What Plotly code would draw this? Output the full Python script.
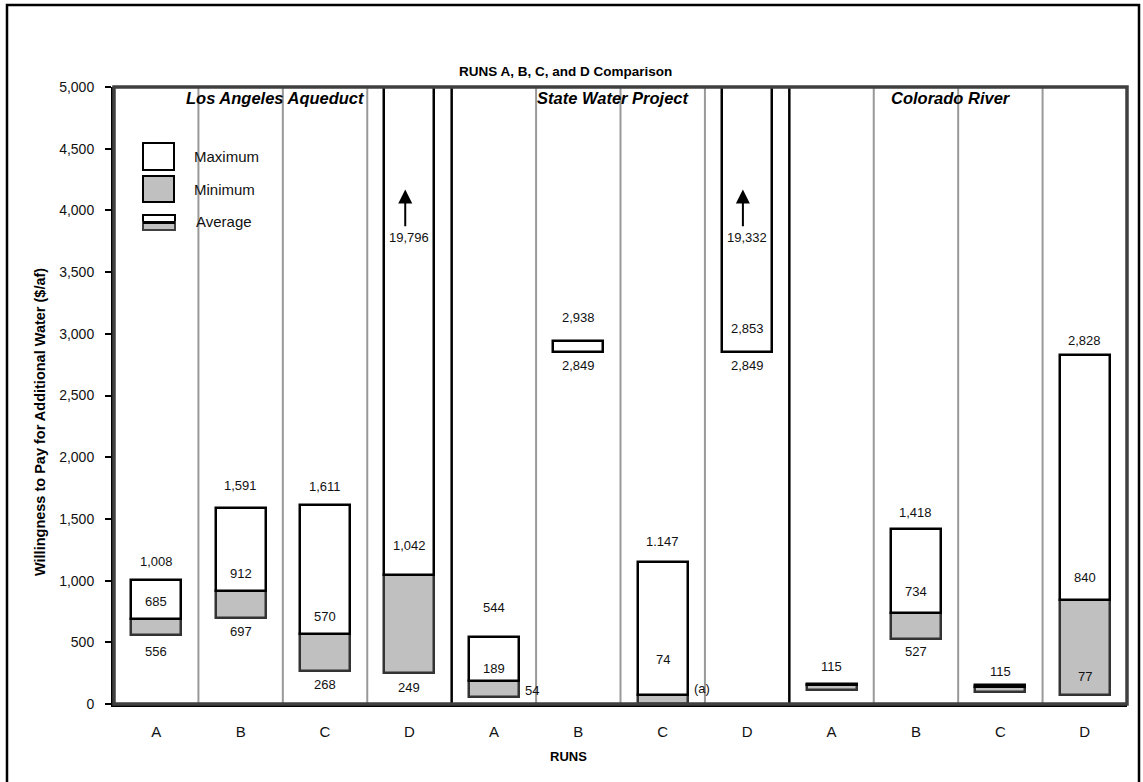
import plotly.graph_objects as go

# ---- data -------------------------------------------------------------
runs = ["A", "B", "C", "D"]
sources = ["Los Angeles Aqueduct", "State Water Project", "Colorado River"]

# willingness to pay ($/af) per source x run, in order LA A..D, SWP A..D, CR A..D
max_vals = [1008, 1591, 1611, 19796, 544, 2938, 1147, 19332, 165, 1418, 150, 2828]
avg_vals = [685, 912, 570, 1042, 189, 2849, 74, 2853, 150, 734, 135, 840]
min_vals = [556, 697, 268, 249, 54, 2849, 0, 2849, 115, 527, 95, 77]

max_text = ["1,008", "1,591", "1,611", "19,796", "544", "2,938", "1.147", "19,332",
            "115", "1,418", "115", "2,828"]
avg_text = ["685", "912", "570", "1,042", "189", "", "74", "2,853", "", "734", "", "840"]
min_text = ["556", "697", "268", "249", "54", "2,849", "(a)", "2,849", "", "527", "", "77"]

# ---- label placement (pixel offsets from the value they describe) -----
max_dy = [18, 22, 19, 0, 29, 24, 21, 0, 17, 17, 14, 15]
avg_dy = [18, 18, 17, 30, 12, 0, 35, 23, 0, 22, 0, 23]
min_dy = [-16, -14, -14, -14, 7, -13, 16, -13, 0, -13, 0, 18]
min_dx = [0, 0, 0, 0, 38, 0, 39, 0, 0, 0, 0, 0]

Y_MAX = 5000
ARROW_HEAD, ARROW_TAIL, OFFSCALE_LABEL = 4170, 3860, 3780

# ---- geometry / style -------------------------------------------------
W, H = 1143, 782
ML, MR, MT, MB = 114, 16, 87, 78
PW, PH = W - ML - MR, H - MT - MB
FONT = "Arial, Liberation Sans, sans-serif"
GRAY = "#c0c0c0"
BAR_W = 0.592

def px(x):  # pixel column -> paper x
    return (x - ML) / PW

def py(y):  # pixel row -> paper y
    return (MT + PH - y) / PH

n = len(max_vals)
xpos = [i + 0.5 for i in range(n)]
ticktext = runs * len(sources)

fig = go.Figure()

# minimum part: from minimum up to the average
fig.add_trace(go.Bar(
    x=xpos, base=min_vals, y=[a - m for a, m in zip(avg_vals, min_vals)],
    width=BAR_W, marker=dict(color=GRAY, line=dict(color="#333333", width=2.5)),
    hoverinfo="skip", showlegend=False))
# maximum part: from the average up to the maximum
fig.add_trace(go.Bar(
    x=xpos, base=avg_vals, y=[mx - a for mx, a in zip(max_vals, avg_vals)],
    width=BAR_W, marker=dict(color="white", line=dict(color="black", width=2.5)),
    hoverinfo="skip", showlegend=False))

shapes = []
# run separators; source boundaries in black
for k in range(1, n):
    boundary = k % len(runs) == 0
    shapes.append(dict(type="line", xref="x", yref="paper", x0=k, x1=k, y0=0, y1=1,
                       line=dict(color="black" if boundary else "#999999",
                                 width=2.5 if boundary else 2), layer="below"))
# plot-area frame (top/right)
shapes.append(dict(type="rect", xref="paper", yref="paper", x0=0, x1=1, y0=0, y1=1,
                   line=dict(color="#404040", width=3.5)))
# outer frame of the chart
shapes.append(dict(type="rect", xref="paper", yref="paper",
                   x0=px(7), x1=px(1139), y0=py(793), y1=py(5),
                   line=dict(color="black", width=2.5)))
# legend swatches
shapes.append(dict(type="rect", xref="paper", yref="paper", x0=px(143), x1=px(174),
                   y0=py(170), y1=py(143), fillcolor="white", line=dict(color="black", width=2)))
shapes.append(dict(type="rect", xref="paper", yref="paper", x0=px(143), x1=px(174),
                   y0=py(202), y1=py(176), fillcolor=GRAY, line=dict(color="black", width=2)))
shapes.append(dict(type="rect", xref="paper", yref="paper", x0=px(143), x1=px(175),
                   y0=py(222), y1=py(215), fillcolor="white", line=dict(color="black", width=2)))
shapes.append(dict(type="rect", xref="paper", yref="paper", x0=px(143), x1=px(175),
                   y0=py(230), y1=py(222), fillcolor=GRAY, line=dict(color="#404040", width=2)))
shapes.append(dict(type="line", xref="paper", yref="paper", x0=px(143), x1=px(175),
                   y0=py(222.5), y1=py(222.5), line=dict(color="black", width=3)))

ann = []
lab = dict(size=13, color="#111111", family=FONT)
for i in range(n):
    x = xpos[i]
    if max_vals[i] > Y_MAX:
        # off-scale maximum: upward arrow with the value below it
        ann.append(dict(x=x - 0.05, y=ARROW_HEAD, ax=x - 0.05, ay=ARROW_TAIL,
                        xref="x", yref="y", axref="x", ayref="y", text="",
                        showarrow=True, arrowhead=2, arrowsize=1.4, arrowwidth=2,
                        arrowcolor="black"))
        ann.append(dict(x=x, y=OFFSCALE_LABEL, xref="x", yref="y", text=max_text[i],
                        showarrow=False, font=lab))
    elif max_text[i]:
        ann.append(dict(x=x, y=max_vals[i], xref="x", yref="y", text=max_text[i],
                        showarrow=False, yshift=max_dy[i], font=lab))
    if avg_text[i]:
        ann.append(dict(x=x, y=avg_vals[i], xref="x", yref="y", text=avg_text[i],
                        showarrow=False, yshift=avg_dy[i], font=lab))
    if min_text[i]:
        ann.append(dict(x=x, y=min_vals[i], xref="x", yref="y", text=min_text[i],
                        showarrow=False, yshift=min_dy[i], xshift=min_dx[i], font=lab))

# source names across the top of each group
for s, name in enumerate(sources):
    ann.append(dict(x=len(runs) * s + len(runs) / 2, y=Y_MAX, xref="x", yref="y",
                    text=f"<b><i>{name}</i></b>", showarrow=False, yshift=-11, xshift=-7,
                    font=dict(size=16.5, color="black", family=FONT)))

# legend text
for label, yy, xx in [("Maximum", 157, 192), ("Minimum", 189, 192), ("Average", 221, 194)]:
    ann.append(dict(x=px(xx), y=py(yy), xref="paper", yref="paper", text=label,
                    showarrow=False, xanchor="left", yanchor="middle",
                    font=dict(size=15, color="#111111", family=FONT)))

# titles
ann.append(dict(x=px(565), y=py(72), xref="paper", yref="paper", yanchor="middle",
                text="<b>RUNS A, B, C, and D Comparison</b>", showarrow=False,
                font=dict(size=13.5, color="black", family=FONT)))
ann.append(dict(x=px(568), y=py(756), xref="paper", yref="paper", yanchor="middle",
                text="<b>RUNS</b>", showarrow=False,
                font=dict(size=13, color="black", family=FONT)))
ann.append(dict(x=px(40), y=py(422), xref="paper", yref="paper", textangle=-90,
                xanchor="center", yanchor="middle",
                text="<b>Willingness to Pay for Additional Water ($/af)</b>",
                showarrow=False, font=dict(size=14.5, color="black", family=FONT)))

fig.update_layout(
    width=W, height=H,
    margin=dict(l=ML, r=MR, t=MT, b=MB, pad=0),
    paper_bgcolor="white", plot_bgcolor="white",
    barmode="overlay", bargap=0,
    shapes=shapes, annotations=ann,
    font=dict(family=FONT, color="black"),
)
fig.update_xaxes(range=[0, n], tickvals=xpos, ticktext=ticktext, ticks="",
                 showgrid=False, zeroline=False, showline=True, linecolor="black",
                 linewidth=3, tickfont=dict(size=15, color="#111111"),
                 ticklabelstandoff=12, fixedrange=True)
fig.update_yaxes(range=[0, Y_MAX], dtick=500, tickformat=",", ticks="outside",
                 ticklen=6, tickwidth=1.5, tickcolor="black", showgrid=False,
                 zeroline=False, showline=True, linecolor="black", linewidth=3,
                 tickfont=dict(size=14, color="#111111"), ticklabelstandoff=8,
                 fixedrange=True)

fig.write_html("out.html")
